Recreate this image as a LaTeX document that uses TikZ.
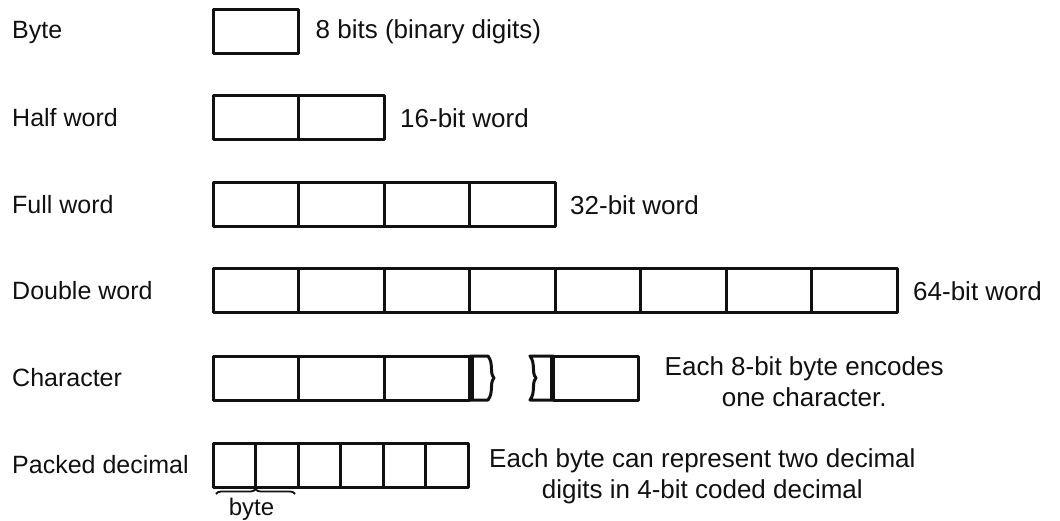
\documentclass[tikz,border=0pt]{standalone}
\usepackage{fontspec}
\setmainfont{Liberation Sans}
\usetikzlibrary{
  positioning,
  calc,
  decorations.pathreplacing
}
\definecolor{wdInk}{HTML}{111111}
\tikzset{
  rowlabel/.style={anchor=west, inner sep=0pt, text=wdInk, font=\fontsize{25}{30}\selectfont},
  note/.style={inner sep=0pt, text=wdInk, align=center, font=\fontsize{26}{31}\selectfont},
  cellline/.style={draw=wdInk, line width=3pt, line join=round},
  cell/.style={cellline, minimum width=85.5pt, minimum height=44pt, inner sep=0pt, outer sep=0pt},
  halfcell/.style={cell, minimum width=42.5pt},
  bytebrace/.style={draw=wdInk, line width=1.8pt, decorate, decoration={brace, amplitude=5pt}}
}

\begin{document}
\begin{tikzpicture}[x=1pt, y=-1pt]
  \useasboundingbox (0,0) rectangle (1060,521);

  % names of the units
  \node[rowlabel] (lbyte) at (12,32)  {Byte};
  \node[rowlabel] (lhalf) at (12,118) {Half word};
  \node[rowlabel] (lfull) at (12,205) {Full word};
  \node[rowlabel] (ldbl)  at (12,291) {Double word};
  \node[rowlabel] (lchar) at (12,378) {Character};
  \node[rowlabel] (lpack) at (12,465) {Packed decimal};

  % byte
  \node[cell] (by1) at (255.75,32) {};
  \node[note, right=17pt of by1] (tbyte) {8 bits (binary digits)};

  % half word
  \node[cell] (hw1) at (255.75,118) {};
  \node[cell, right=0pt of hw1] (hw2) {};
  \node[note, right=16pt of hw2] (thalf) {16-bit word};

  % full word
  \node[cell] (fw1) at (255.75,205) {};
  \foreach \i [count=\j from 2] in {1,2,3}
    \node[cell, right=0pt of fw\i] (fw\j) {};
  \node[note, right=15pt of fw4] (tfull) {32-bit word};

  % double word
  \node[cell] (dw1) at (255.75,291) {};
  \foreach \i [count=\j from 2] in {1,...,7}
    \node[cell, right=0pt of dw\i] (dw\j) {};
  \node[note, right=16pt of dw8] (tdbl) {64-bit word};

  % character string, broken after the third byte
  \node[cell] (ch1) at (255.75,378) {};
  \foreach \i [count=\j from 2] in {1,2}
    \node[cell, right=0pt of ch\i] (ch\j) {};
  \draw[cellline] (ch3.north east) -- (488,356)
    .. controls (494,364) and (489,372) .. (494,378)
    .. controls (489,384) and (494,392) .. (488,400) -- (ch3.south east);
  \draw[cellline] ([xshift=2.5pt]ch3.north east) -- ([xshift=2.5pt]ch3.south east);
  \node[cell, minimum width=85pt] (ch5) at (596,378) {};
  \draw[cellline] (ch5.north west) -- (530,356)
    .. controls (536,364) and (531,372) .. (536,378)
    .. controls (531,384) and (536,392) .. (530,400) -- (ch5.south west);
  \draw[cellline] ([xshift=-2.5pt]ch5.north west) -- ([xshift=-2.5pt]ch5.south west);
  \node[note, right=26pt of ch5, yshift=-4pt] (tchar) {Each 8-bit byte encodes\\one character.};

  % packed decimal, two digits to a byte
  \node[halfcell] (pd1) at (234.25,465) {};
  \foreach \i [count=\j from 2] in {1,...,5}
    \node[halfcell, right=0pt of pd\i] (pd\j) {};
  \node[note, right=21pt of pd6, yshift=-11pt] (tpack) {Each byte can represent two decimal\\digits in 4-bit coded decimal};
  \draw[bytebrace] ([shift={(3pt,-7pt)}]pd1.south west) -- ([shift={(-3pt,-7pt)}]pd2.south east);
  \node[note, anchor=north, xshift=-4pt, yshift=-11pt, font=\fontsize{24}{28}\selectfont] (tbr) at (pd1.south east) {byte};
\end{tikzpicture}
\end{document}
